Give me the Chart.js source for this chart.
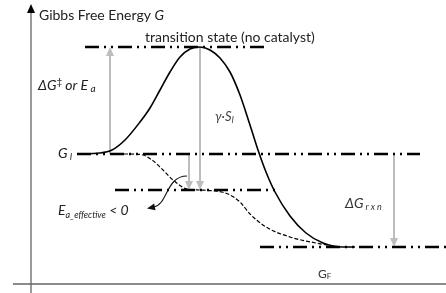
<!DOCTYPE html>
<html>
<head>
    <title>Gibbs Free Energy</title>
    <script src="https://cdn.jsdelivr.net/npm/chart.js"></script>
    <style>
        body { margin: 0; background: #fff; }
        #wrap { width: 446px; height: 293px; }
    </style>
</head>
<body>
    <div id="wrap"><canvas id="energy-chart" width="446" height="293"></canvas></div>

    <script>
        // energy levels (arbitrary units, 0 = horizontal axis)
        const G_TS = 237;     // transition state (no catalyst)
        const G_I = 130;      // initial state
        const G_INT = 94;     // catalysed intermediate
        const G_F = 37;       // final state

        // reaction coordinate of the sampled path points
        const uncatX = [77, 100, 112, 125, 140, 150, 160, 170, 180, 190, 200, 210, 220, 230, 240, 250, 258, 266, 275, 290, 306, 323, 343, 355];
        const uncatG = [130, 131, 134, 144, 162, 176, 194, 212, 227, 235, 237, 234, 226, 212, 189, 159, 134, 112, 92, 68, 51, 41, 37, 37];

        const catX = [112, 130, 143, 152, 160, 173, 187, 200, 215, 228, 240, 250, 266, 290, 316, 340];
        const catG = [130, 130, 129, 124, 117, 104, 95, 94, 93, 90, 82, 70, 57, 47, 41, 37];

        // dash-dot reference levels: [level, from, to]
        const levels = [
            [G_TS, 85, 268],
            [G_I, 77, 420],
            [G_INT, 115, 275],
            [G_F, 260, 446]
        ];

        // gray arrows: [x, from, to]
        const arrows = [
            [110, G_I, G_TS],
            [200, G_TS, G_INT],
            [189, G_I, G_INT],
            [394, G_I, G_F]
        ];

        function pts(xs, ys) {
            return xs.map((x, i) => ({ x: x, y: ys[i] }));
        }

        const datasets = [];
        levels.forEach(l => {
            datasets.push({
                data: [{ x: l[1], y: l[0] }, { x: l[2], y: l[0] }],
                borderColor: '#000',
                borderWidth: 2.5,
                borderDash: [14, 5, 2, 5, 2, 5],
                pointRadius: 0
            });
        });
        datasets.push({
            data: pts(catX, catG),
            borderColor: '#000',
            borderWidth: 1.2,
            borderDash: [4, 2],
            cubicInterpolationMode: 'monotone',
            pointRadius: 0
        });
        datasets.push({
            data: pts(uncatX, uncatG),
            borderColor: '#000',
            borderWidth: 1.6,
            cubicInterpolationMode: 'monotone',
            pointRadius: 0
        });

        function head(ctx, x, y, dx, dy, len, w) {
            ctx.beginPath();
            ctx.moveTo(x, y);
            ctx.lineTo(x - dx * len - dy * w, y - dy * len + dx * w);
            ctx.lineTo(x - dx * len + dy * w, y - dy * len - dx * w);
            ctx.closePath();
            ctx.fill();
        }

        // text with a subscript / superscript part
        function label(ctx, parts, x, y) {
            parts.forEach(p => {
                ctx.font = p.font;
                ctx.fillStyle = p.color || '#222';
                ctx.fillText(p.t, x, y + (p.dy || 0));
                x += ctx.measureText(p.t).width + (p.gap || 0);
            });
        }

        const annotations = {
            id: 'annotations',
            beforeDatasetsDraw(chart) {
                const ctx = chart.ctx;
                const sx = chart.scales.x, sy = chart.scales.y;
                ctx.save();
                // axes
                ctx.strokeStyle = '#666';
                ctx.lineWidth = 1.3;
                ctx.beginPath();
                ctx.moveTo(sx.getPixelForValue(31), sy.getPixelForValue(-9));
                ctx.lineTo(sx.getPixelForValue(31), sy.getPixelForValue(275));
                ctx.moveTo(sx.getPixelForValue(13), sy.getPixelForValue(0));
                ctx.lineTo(sx.getPixelForValue(446), sy.getPixelForValue(0));
                ctx.stroke();
                ctx.fillStyle = '#000';
                head(ctx, sx.getPixelForValue(31), sy.getPixelForValue(280), 0, -1, 9, 4);

                // gray arrows
                ctx.strokeStyle = '#bdbdbd';
                ctx.fillStyle = '#bdbdbd';
                ctx.lineWidth = 2;
                arrows.forEach(a => {
                    const x = sx.getPixelForValue(a[0]);
                    const y0 = sy.getPixelForValue(a[1]);
                    const y1 = sy.getPixelForValue(a[2]);
                    const d = y1 > y0 ? 1 : -1;
                    ctx.beginPath();
                    ctx.moveTo(x, y0);
                    ctx.lineTo(x, y1 - d * 8);
                    ctx.stroke();
                    head(ctx, x, y1, 0, d, 9, 4);
                });
                ctx.restore();
            },
            afterDatasetsDraw(chart) {
                const ctx = chart.ctx;
                ctx.save();
                // curved arrow to E_a_effective
                ctx.strokeStyle = '#111';
                ctx.fillStyle = '#111';
                ctx.lineWidth = 1.1;
                ctx.beginPath();
                ctx.moveTo(187, 176);
                ctx.bezierCurveTo(166, 176, 168, 204, 154, 207);
                ctx.stroke();
                head(ctx, 147, 208.5, -0.98, 0.2, 8, 3.5);

                ctx.textBaseline = 'alphabetic';
                const f = 'Lato, "Open Sans", sans-serif';
                label(ctx, [
                    { t: 'Gibbs Free Energy ', font: '14px ' + f },
                    { t: 'G', font: 'italic 14px ' + f }
                ], 39, 20);
                label(ctx, [{ t: 'transition state (no catalyst)', font: '14px ' + f }], 145, 42);
                label(ctx, [
                    { t: '\u0394G', font: 'italic 14px ' + f },
                    { t: '\u2021', font: '10px ' + f, dy: -5, gap: 3 },
                    { t: 'or E', font: 'italic 14px ' + f },
                    { t: ' a', font: 'italic 10px ' + f, dy: 2 }
                ], 38, 90);
                label(ctx, [
                    { t: '\u03b3\u00b7S', font: 'italic 13px ' + f, color: '#444' },
                    { t: 'I', font: 'italic 9px ' + f, color: '#444', dy: 2 }
                ], 215, 121);
                label(ctx, [
                    { t: 'G', font: 'italic 14px ' + f },
                    { t: ' I', font: 'italic 9px ' + f, dy: 2 }
                ], 58, 158);
                label(ctx, [
                    { t: 'E', font: 'italic 14px ' + f },
                    { t: 'a_effective', font: 'italic 9px ' + f, dy: 3 },
                    { t: ' < 0', font: 'italic 14px ' + f }
                ], 58, 215);
                label(ctx, [
                    { t: '\u0394G', font: 'italic 14px ' + f, color: '#333', gap: 2 },
                    { t: 'r x n', font: 'italic 9px ' + f, color: '#333', dy: 2 }
                ], 345, 208);
                label(ctx, [
                    { t: 'G', font: '12px ' + f, color: '#333' },
                    { t: 'F', font: '8px ' + f, color: '#333', dy: 1 }
                ], 318, 278);
                ctx.restore();
            }
        };

        new Chart(document.getElementById('energy-chart'), {
            type: 'line',
            data: { datasets: datasets },
            options: {
                responsive: false,
                animation: false,
                layout: { padding: 0 },
                plugins: { legend: { display: false }, tooltip: { enabled: false } },
                scales: {
                    x: { type: 'linear', min: 0, max: 446, display: false },
                    y: { type: 'linear', min: -9, max: 284, display: false }
                }
            },
            plugins: [annotations]
        });
    </script>
</body>
</html>
